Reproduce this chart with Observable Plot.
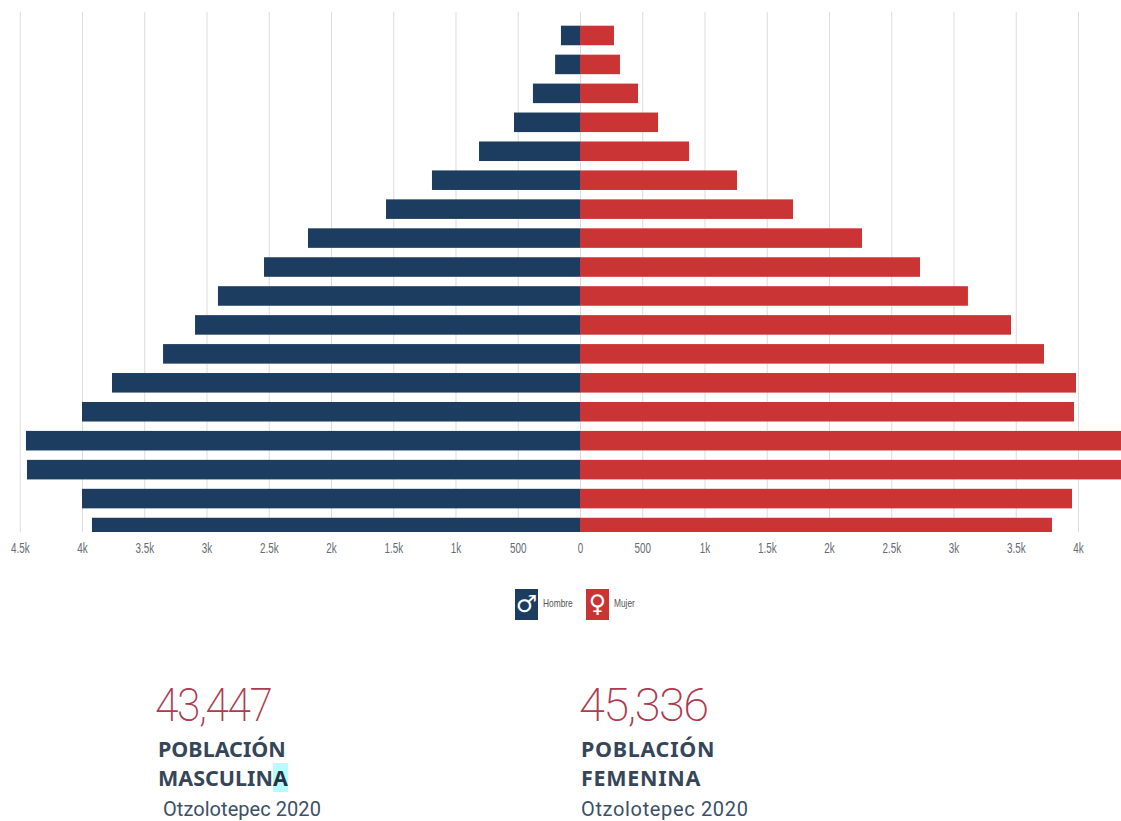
<!DOCTYPE html>
<html lang="es">
<head>
<meta charset="utf-8">
<script src="https://cdn.jsdelivr.net/npm/d3@7"></script>
<script src="https://cdn.jsdelivr.net/npm/@observablehq/plot@0.6"></script>
<style>
html,body{margin:0;padding:0;background:#fff;overflow:hidden}
#page{position:relative;width:1121px;height:821px;overflow:hidden}
#chart svg{display:block}
.abs{position:absolute;white-space:nowrap}
.big{font-family:"Roboto";font-weight:200;font-size:47px;line-height:47px;color:#b03a50;letter-spacing:-1.6px;transform-origin:left top}
.head{font-family:"Noto Sans","Open Sans",sans-serif;font-weight:700;font-size:21.5px;line-height:29px;color:#36465a}
.sub{font-family:"Roboto",sans-serif;font-size:20px;line-height:22px;color:#3c5068;letter-spacing:.05px}
.hl{background:#b5fdff;color:#26323f}
.swatch{width:23px;height:31px;color:#fff;text-align:center;font-family:"DejaVu Sans";font-size:24px;line-height:30px}
.leg{font-family:"Liberation Sans",sans-serif;font-size:11px;color:#555;line-height:14px;transform:scaleX(.76);transform-origin:left top}
</style>
</head>
<body>
<div id="page">
  <div id="chart"></div>
  <div class="abs swatch" style="left:515px;top:589px;background:#1c3d5f">♂</div>
  <div class="abs leg" style="left:543px;top:596px">Hombre</div>
  <div class="abs swatch" style="left:586px;top:589px;background:#cb3434">♀</div>
  <div class="abs leg" style="left:614px;top:596px">Mujer</div>

  <div class="abs big" style="left:155px;top:681px;transform:scaleX(.905)">43,447</div>
  <div class="abs head" style="left:158px;top:734px">POBLACIÓN<br>MASCULIN<span class="hl">A</span></div>
  <div class="abs sub" style="left:163px;top:798px">Otzolotepec 2020</div>

  <div class="abs big" style="left:579px;top:681px">45,336</div>
  <div class="abs head" style="left:581px;top:734px;letter-spacing:.7px">POBLACIÓN<br>FEMENINA</div>
  <div class="abs sub" style="left:581px;top:798px;letter-spacing:.65px">Otzolotepec 2020</div>
</div>
<script>
const ageGroups = ["85+","80-84","75-79","70-74","65-69","60-64","55-59","50-54","45-49","40-44","35-39","30-34","25-29","20-24","15-19","10-14","5-9","0-4"];
const hombres = [153,200,378,530,811,1189,1558,2185,2538,2908,3092,3349,3759,4000,4450,4442,4000,3920];
const mujeres = [273,321,466,627,876,1261,1711,2265,2731,3116,3462,3727,3984,3968,4450,4450,3952,3791];
const xTicks = [-4500,-4000,-3500,-3000,-2500,-2000,-1500,-1000,-500,0,500,1000,1500,2000,2500,3000,3500,4000];

const male = ageGroups.map((age,i)=>({age,value:-hombres[i]}));
const female = ageGroups.map((age,i)=>({age,value:mujeres[i]}));
const fmt = v => { const a = Math.abs(v); return a < 1000 ? String(a) : (a/1000) + "k"; };

const chart = Plot.plot({
  width: 1121,
  height: 560,
  marginTop: 12,
  marginBottom: 28,
  marginLeft: 0,
  marginRight: 0,
  style: {background:"transparent", fontFamily:'"Liberation Sans",sans-serif', fontSize:"14.5px"},
  x: {domain:[-4658.6,4345.4], range:[0,1121]},
  y: {domain:ageGroups, range:[21,542], padding:0, round:false, axis:null},
  marks: [
    Plot.ruleX(xTicks,{stroke:"#dcdcdc",strokeWidth:1}),
    Plot.barX(male,{x:"value",y:"age",fill:"#1c3d5f",clip:true,insetTop:4.7,insetBottom:4.7}),
    Plot.barX(female,{x:"value",y:"age",fill:"#cb3434",clip:true,insetTop:4.7,insetBottom:4.7}),
    Plot.axisX({ticks:xTicks,tickSize:0,tickPadding:10,tickFormat:fmt,label:null,color:"#666b74"})
  ]
});
// condensed tick labels: the reference face is a narrow one
d3.select(chart).selectAll('g[aria-label="x-axis tick label"] text').each(function(){
  const t = this.getAttribute("transform") || "";
  this.setAttribute("transform", t + " scale(.68,1)");
});
document.getElementById("chart").appendChild(chart);
</script>
</body>
</html>
